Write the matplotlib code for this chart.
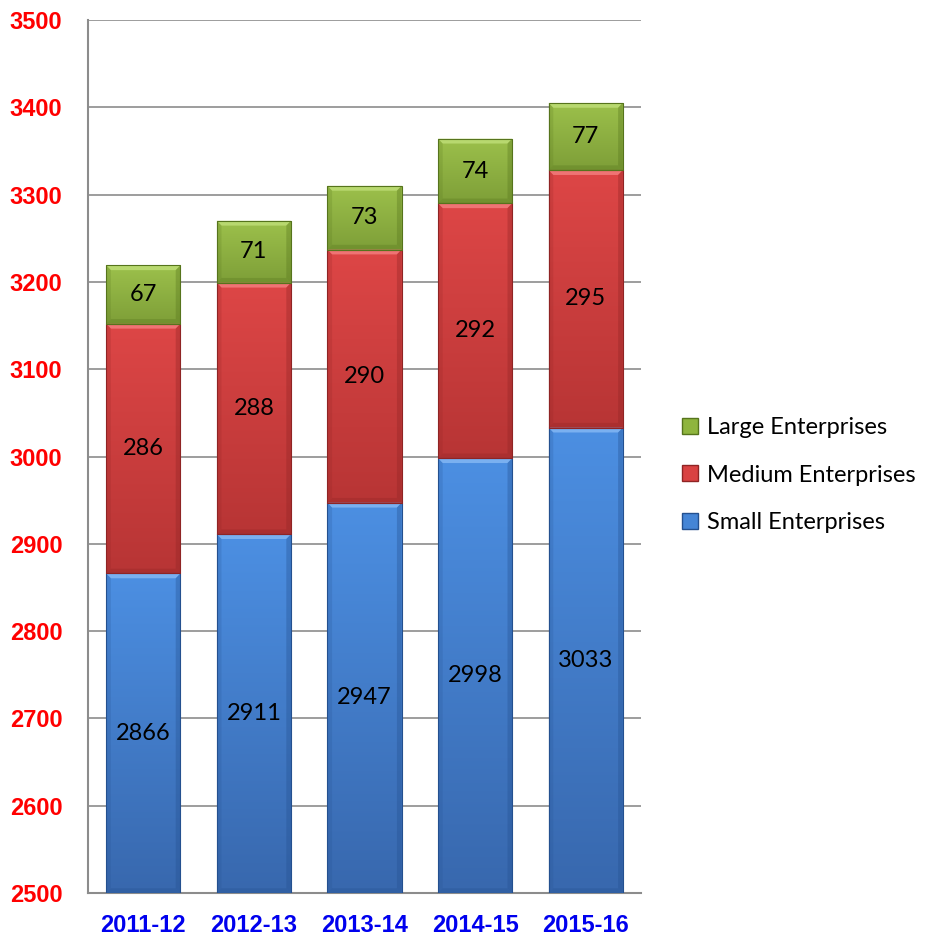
import matplotlib
matplotlib.use("Agg")
import matplotlib.pyplot as plt
from matplotlib.patches import Polygon, Patch
from matplotlib.colors import to_rgb
import numpy as np

years = ["2011-12", "2012-13", "2013-14", "2014-15", "2015-16"]
small = [2866, 2911, 2947, 2998, 3033]
medium = [286, 288, 290, 292, 295]
large = [67, 71, 73, 74, 77]
series_names = ["Small Enterprises", "Medium Enterprises", "Large Enterprises"]
colors = ["#4585d6", "#d94242", "#8fb53e"]
top_c = ["#4c8fe2", "#dd4646", "#9cc04b"]
bot_c = ["#3868ae", "#b83535", "#7e9f38"]
light = ["#80b4f2", "#f27a7a", "#bcdc74"]
dark = ["#24508f", "#8f2424", "#56741c"]
yticks = [2500, 2600, 2700, 2800, 2900, 3000, 3100, 3200, 3300, 3400, 3500]

plt.rcParams['font.family'] = ['Lato', 'DejaVu Sans']
tick_font = ['Liberation Sans', 'DejaVu Sans']

fig = plt.figure(figsize=(9.31, 9.42), dpi=100)
ax = fig.add_axes([88/931, 1-893/942, 553/931, 873/942])

x = np.arange(len(years))
w = 0.67
vals = [small, medium, large]
bottoms = [np.full(len(years), 2500.0), np.array(small, float),
           np.array(small, float) + np.array(medium, float)]
heights = [np.array(small, float) - 2500, np.array(medium, float), np.array(large, float)]

for i in range(3):
    bc = ax.bar(x, heights[i], bottom=bottoms[i], width=w, color=colors[i], zorder=3,
                edgecolor="none", linewidth=0)
    c0 = np.array(to_rgb(top_c[i]))
    c1 = np.array(to_rgb(bot_c[i]))
    t = np.linspace(0, 1, 64)[:, None]
    grad = (c0[None, :] * (1 - t) + c1[None, :] * t)[:, None, :]
    for rect, val in zip(bc, vals[i]):
        x0, y0 = rect.get_x(), rect.get_y()
        x1, y1 = x0 + rect.get_width(), y0 + rect.get_height()
        im = ax.imshow(grad, extent=[x0, x1, y0, y1], aspect="auto", origin="upper",
                       zorder=3.2, interpolation="bilinear")
        im.set_clip_path(rect)
        dx, dy = 0.042, 5.5
        top = Polygon([[x0, y1], [x1, y1], [x1 - dx, y1 - dy], [x0 + dx, y1 - dy]],
                      closed=True, facecolor=light[i], edgecolor="none", alpha=0.9, zorder=4)
        right = Polygon([[x1, y0], [x1, y1], [x1 - dx, y1 - dy], [x1 - dx, y0 + dy]],
                        closed=True, facecolor=dark[i], edgecolor="none", alpha=0.35, zorder=4)
        lft = Polygon([[x0, y0], [x0, y1], [x0 + dx, y1 - dy], [x0 + dx, y0 + dy]],
                      closed=True, facecolor=dark[i], edgecolor="none", alpha=0.2, zorder=4)
        bot = Polygon([[x0, y0], [x1, y0], [x1 - dx, y0 + dy], [x0 + dx, y0 + dy]],
                      closed=True, facecolor=dark[i], edgecolor="none", alpha=0.3, zorder=4)
        for p in (top, right, lft, bot):
            ax.add_patch(p)
        ax.add_patch(plt.Rectangle((x0, y0), x1 - x0, y1 - y0, fill=False,
                                   edgecolor=dark[i], linewidth=0.8, zorder=4.5))
        ax.text((x0 + x1) / 2, (y0 + y1) / 2, f"{int(val)}", ha="center", va="center",
                fontsize=17, color="black", zorder=5)

ax.set_xlim(-0.5, len(years) - 0.5)
ax.set_ylim(2500, 3500)
ax.set_yticks(yticks)
ax.set_yticklabels([str(t) for t in yticks], color="#ff0000", fontweight="bold",
                   fontsize=17, family=tick_font)
ax.set_xticks(x)
ax.set_xticklabels(years, color="#0000ee", fontweight="bold", fontsize=17, family=tick_font)
ax.tick_params(axis="y", length=0, pad=18.5)
ax.tick_params(axis="x", length=0, pad=15)
ax.grid(axis="y", color="#8c8c8c", linewidth=1.2, zorder=0)
ax.set_axisbelow(True)
for s in ["top", "right"]:
    ax.spines[s].set_visible(False)
for s in ["left", "bottom"]:
    ax.spines[s].set_color("#8c8c8c")
    ax.spines[s].set_linewidth(1.5)

handles = [Patch(facecolor=colors[i], edgecolor=dark[i], label=series_names[i]) for i in [2, 1, 0]]
fig.legend(handles=handles, loc="center left", bbox_to_anchor=(661/931, 1-475/942),
           frameon=False, fontsize=17, handlelength=0.65, handleheight=0.65,
           handletextpad=0.4, labelspacing=1.12)

fig.savefig("out.png", dpi=100)
